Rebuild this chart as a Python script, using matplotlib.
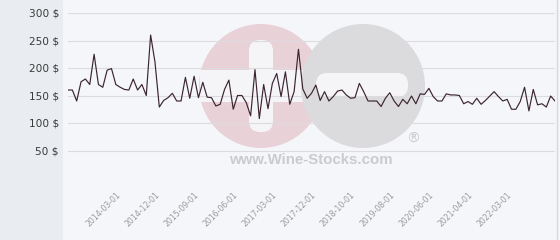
import matplotlib.pyplot as plt
from matplotlib.patches import Circle, FancyBboxPatch, Rectangle

# prix mensuels
prices = [160, 160, 140, 175, 180, 170, 225, 170, 165, 196,
          199, 170, 165, 161, 160, 180, 160, 170, 150, 260,
          211, 129, 141, 146, 154, 140, 140, 183, 145, 185,
          146, 174, 147, 146, 131, 134, 161, 178,
          125, 150, 150, 137, 113,
          197, 108, 170, 126, 172, 190, 148,
          193, 134, 157, 234, 162, 145, 154, 169, 141, 157,
          140, 148, 158, 160, 151, 145, 146, 172, 157, 140,
          140, 140, 130, 145, 155, 140, 130, 143, 135, 149,
          135, 153, 152, 163, 148, 140, 140, 153, 151, 151,
          150, 135, 139, 134, 145, 134, 141, 149, 157, 148,
          140, 143, 125, 125, 139, 165, 122, 161, 133, 135,
          129, 149, 140]

date_labels = ['2014-03-01', '2014-12-01', '2015-09-01', '2016-06-01',
               '2017-03-01', '2017-12-01', '2018-10-01', '2019-08-01',
               '2020-06-01', '2021-04-01', '2022-03-01']
first_label = 11
label_step = 9

y_ticks = [0, 50, 100, 150, 200, 250, 300]

W, H = 560, 240
fig = plt.figure(figsize=(W / 100, H / 100), dpi=100)
fig.patch.set_facecolor('#f5f6fa')

# fond + filigrane (coordonnees en pixels)
bg = fig.add_axes([0, 0, 1, 1], zorder=0)
bg.set_xlim(0, W)
bg.set_ylim(H, 0)
bg.axis('off')
bg.add_patch(Rectangle((0, 0), 63, H, color='#e9ecf0', lw=0))
bg.plot([557, 557], [0, H], color='#d8d8dc', lw=1)

bg.add_patch(Circle((261, 86), 62, color='#e9d1d8', lw=0))
bg.add_patch(Rectangle((200, 70), 105, 32, color='#f5f5f8', lw=0))
bg.add_patch(FancyBboxPatch((249, 40), 24, 92, boxstyle='round,pad=0,rounding_size=11',
                            color='#f5f5f8', lw=0))
bg.add_patch(Circle((363, 86), 62, color='#dbdbdd', lw=0))
bg.add_patch(FancyBboxPatch((316, 73), 92, 24, boxstyle='round,pad=0,rounding_size=11',
                            color='#f5f5f8', lw=0))
bg.text(311, 160, 'www.Wine-Stocks.com', ha='center', va='center', fontsize=10.8,
        fontweight='bold', color='#cbcbce', family='Liberation Sans')
bg.text(413, 139, '®', ha='center', va='center', fontsize=10, color='#cbcbce')

# graphique
ax = fig.add_axes([68 / W, (H - 178) / H, 487 / W, 165 / H], zorder=1)
ax.patch.set_alpha(0)
x = list(range(len(prices)))
ax.plot(x, prices, color='#3b2530', lw=0.85)

ax.set_xlim(0, len(prices) - 1)
ax.set_ylim(0, 300)
ax.set_yticks(y_ticks)
ax.set_yticklabels(['' if v == 0 else f'{v} $' for v in y_ticks])
ax.set_xticks([first_label + label_step * i for i in range(len(date_labels))])
ax.set_xticklabels(date_labels, rotation=45, ha='right', rotation_mode='anchor')

ax.tick_params(axis='y', length=0, pad=6.5, labelsize=7.6, labelcolor='#3a3a3a')
ax.tick_params(axis='x', length=0, pad=9, labelsize=5.6, labelcolor='#9a9a9a')
ax.grid(axis='y', color='#dcdcdf', lw=0.8)
ax.grid(axis='x', visible=False)
for s in ax.spines.values():
    s.set_visible(False)

fig.savefig('out.png', dpi=100, facecolor=fig.get_facecolor())
